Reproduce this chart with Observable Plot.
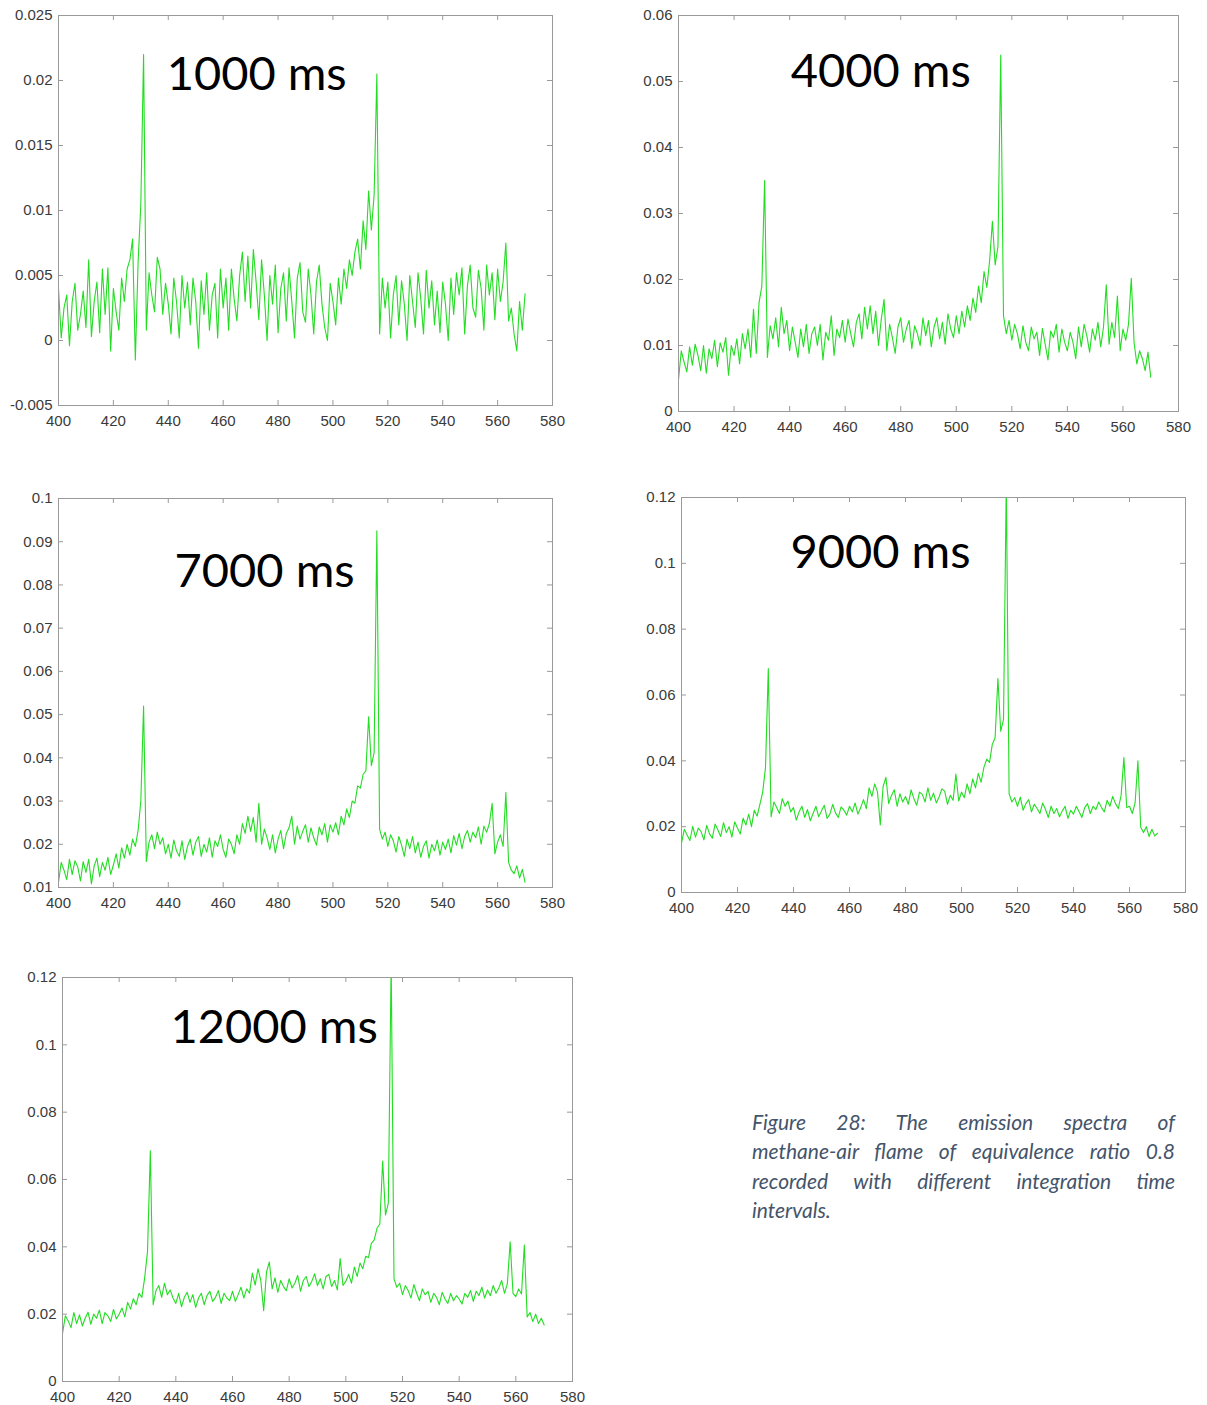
<!DOCTYPE html>
<html>
<head>
<meta charset="utf-8">
<script src="https://cdn.jsdelivr.net/npm/d3@7"></script>
<script src="https://cdn.jsdelivr.net/npm/@observablehq/plot@0.6"></script>
<style>
  html, body { margin: 0; padding: 0; background: #fff; }
  #page { position: relative; width: 1207px; height: 1405px; overflow: hidden; background: #fff; }
  .panel { position: absolute; }
  .panel svg { display: block; overflow: visible; }
  #caption { position: absolute; left: 752px; top: 1107px; width: 423px;
    font-family: Lato, "Open Sans", sans-serif; font-style: italic; font-size: 21px;
    line-height: 29.3px; color: #44546a; }
  #caption .j { text-align: justify; text-align-last: justify; }
</style>
</head>
<body>
<div id="page">
  <div id="caption">
    <div class="j">Figure 28: The emission spectra of</div>
    <div class="j">methane-air flame of equivalence ratio 0.8</div>
    <div class="j">recorded with different integration time</div>
    <div>intervals.</div>
  </div>
</div>
<script>
// ---- data -------------------------------------------------------------
// wavelength sampling grid (nm), 1 nm steps from 400 to 570
const wavelength = d3.range(400, 571);
// intensities, in units of 1e-4 (a.u.)
const UNIT = 1e-4;
const intensity1000 = [
  40, 2, 25, 35, -4, 30, 44, 8, 20, 38,
  10, 62, 3, 30, 45, 6, 55, 20, 56, -8,
  40, 22, 8, 48, 30, 55, 62, 78, -15, 60,
  105, 220, 8, 52, 35, 22, 64, 55, 20, 44,
  28, 5, 48, 30, 2, 50, 25, 45, 12, 48,
  30, -6, 46, 20, 52, 8, 35, 44, 2, 55,
  25, 48, 8, 55, 32, 15, 50, 68, 30, 65,
  25, 70, 45, 16, 62, 35, 0, 50, 28, 58,
  6, 40, 52, 15, 56, 30, 2, 48, 60, 22,
  14, 55, 35, 5, 45, 58, 28, 10, 0, 44,
  30, 12, 48, 28, 55, 40, 62, 50, 68, 78,
  55, 92, 70, 115, 85, 112, 205, 5, 48, 25,
  45, 2, 35, 50, 12, 46, 28, 0, 50, 30,
  10, 52, 32, 5, 54, 25, 46, 12, 38, 6,
  45, 28, 0, 48, 20, 52, 35, 56, 5, 42,
  58, 25, 18, 54, 40, 8, 58, 35, 52, 16,
  55, 30, 45, 75, 15, 25, 5, -8, 30, 8,
  36
];
const intensity4000 = [
  48, 92, 75, 60, 98, 70, 102, 85, 62, 100,
  58, 95, 80, 108, 68, 104, 90, 112, 55, 100,
  85, 110, 72, 118, 95, 125, 82, 155, 88, 165,
  190, 350, 82, 130, 110, 142, 98, 158, 118, 138,
  92, 128, 105, 82, 125, 98, 132, 88, 118, 128,
  100, 132, 78, 120, 108, 145, 85, 125, 112, 138,
  105, 140, 118, 98, 135, 148, 110, 158, 125, 160,
  118, 152, 100, 140, 170, 92, 132, 112, 88, 128,
  142, 105, 125, 138, 95, 130, 118, 100, 142, 115,
  138, 98, 128, 142, 110, 135, 102, 148, 125, 112,
  145, 118, 152, 128, 160, 138, 172, 150, 190, 165,
  212, 188, 228, 288, 222, 250, 540, 145, 118, 138,
  108, 132, 118, 95, 130, 105, 92, 128, 110, 120,
  85, 126, 102, 78, 122, 112, 132, 90, 125, 105,
  92, 120, 105, 80, 128, 98, 132, 115, 90, 125,
  108, 135, 98, 128, 192, 102, 135, 112, 175, 92,
  125, 108, 132, 202, 105, 72, 92, 80, 62, 90,
  52
];
const intensity7000 = [
  112, 158, 140, 118, 165, 130, 162, 148, 115, 160,
  135, 165, 108, 150, 168, 125, 158, 140, 170, 130,
  152, 178, 145, 192, 168, 200, 175, 212, 195, 232,
  300, 520, 160, 205, 222, 190, 228, 200, 215, 178,
  200, 168, 210, 185, 172, 208, 165, 195, 212, 175,
  205, 218, 172, 200, 182, 215, 170, 208, 195, 222,
  188, 170, 212, 200, 178, 222, 200, 248, 225, 265,
  230, 262, 205, 295, 200, 235, 215, 188, 222, 180,
  212, 232, 190, 225, 238, 265, 200, 242, 212, 230,
  245, 205, 238, 215, 198, 240, 222, 248, 205, 245,
  228, 250, 222, 265, 245, 282, 262, 300, 295, 335,
  330, 362, 370, 495, 382, 412, 925, 235, 212, 228,
  195, 222, 208, 182, 218, 198, 172, 212, 190, 218,
  180, 205, 170, 195, 208, 168, 200, 185, 210, 175,
  205, 188, 212, 180, 220, 198, 225, 190, 218, 232,
  205, 228, 215, 240, 200, 242, 228, 248, 295, 178,
  205, 222, 195, 320, 158, 140, 132, 150, 122, 142,
  112
];
const intensity9000 = [
  150, 192, 175, 158, 201, 168, 196, 185, 160, 204,
  178, 165, 208, 190, 170, 212, 182, 200, 168, 215,
  195, 178, 226, 205, 238, 200, 250, 232, 268, 305,
  380, 680, 230, 275, 258, 240, 285, 262, 278, 245,
  258, 220, 245, 262, 228, 252, 218, 240, 262, 230,
  248, 265, 225, 238, 268, 242, 228, 260, 250, 235,
  262, 245, 272, 238, 258, 282, 255, 318, 292, 330,
  305, 205, 322, 350, 270, 295, 312, 262, 300, 275,
  292, 268, 312, 285, 265, 305, 298, 275, 318, 280,
  302, 272, 290, 315, 308, 268, 295, 280, 360, 278,
  305, 288, 330, 300, 345, 318, 362, 335, 380, 405,
  395, 450, 470, 650, 490, 525, 1250, 300, 275, 288,
  262, 290, 250, 270, 282, 245, 268, 255, 240, 272,
  252, 228, 262, 240, 255, 230, 248, 262, 225, 250,
  238, 262, 245, 228, 258, 270, 240, 262, 252, 275,
  258, 245, 280, 262, 292, 270, 255, 295, 410, 258,
  262, 240, 272, 400, 198, 182, 200, 170, 192, 172,
  180
];
const intensity12000 = [
  142, 195, 180, 160, 205, 172, 198, 165, 188, 206,
  170, 200, 188, 212, 172, 205, 195, 178, 214, 186,
  200, 218, 192, 235, 215, 246, 228, 262, 250, 308,
  385, 685, 228, 270, 285, 250, 292, 258, 272, 248,
  232, 262, 222, 250, 265, 235, 258, 220, 248, 262,
  228, 255, 268, 238, 250, 270, 232, 262, 248, 240,
  268, 238, 258, 280, 248, 275, 262, 322, 286, 335,
  300, 210, 325, 355, 275, 308, 265, 300, 282, 270,
  305, 278, 292, 315, 268, 300, 312, 282, 298, 320,
  285, 305, 275, 312, 318, 282, 300, 272, 365, 285,
  298, 318, 292, 340, 312, 352, 335, 372, 368, 410,
  420, 455, 468, 655, 495, 530, 1250, 305, 280, 292,
  258, 285, 270, 248, 288, 262, 240, 275, 258, 268,
  235, 262, 250, 228, 265, 245, 232, 262, 240, 255,
  245, 230, 262, 250, 270, 238, 268, 255, 280, 248,
  272, 255, 285, 262, 278, 300, 262, 290, 415, 262,
  252, 275, 260, 405, 192, 205, 178, 200, 172, 188,
  168
];
const labels = ["1000 ms", "4000 ms", "7000 ms", "9000 ms", "12000 ms"];
const xTicks = [400, 420, 440, 460, 480, 500, 520, 540, 560, 580];
const yTicks1000 = [-0.005, 0, 0.005, 0.01, 0.015, 0.02, 0.025];
const yTicks4000 = [0, 0.01, 0.02, 0.03, 0.04, 0.05, 0.06];
const yTicks7000 = [0.01, 0.02, 0.03, 0.04, 0.05, 0.06, 0.07, 0.08, 0.09, 0.1];
const yTicks9000 = [0, 0.02, 0.04, 0.06, 0.08, 0.1, 0.12];
const yTicks12000 = [0, 0.02, 0.04, 0.06, 0.08, 0.1, 0.12];

// ---- layout / style ---------------------------------------------------
const GREEN = "#22dd22";
const AXIS = "#9a9a9a";
const LABEL = "#3a3a3a";
const TICK = 5;
const M = {left: 60, top: 20, right: 20, bottom: 34};

const panels = [
  {values: intensity1000, yTicks: yTicks1000, label: labels[0], box: [58, 15, 494, 390], at: [439.4, 0.0193]},
  {values: intensity4000, yTicks: yTicks4000, label: labels[1], box: [678, 15, 500, 396], at: [440.4, 0.0491]},
  {values: intensity7000, yTicks: yTicks7000, label: labels[2], box: [58, 498, 494, 389], at: [442.3, 0.0796]},
  {values: intensity9000, yTicks: yTicks9000, label: labels[3], box: [681, 497, 504, 395], at: [438.9, 0.0987]},
  {values: intensity12000, yTicks: yTicks12000, label: labels[4], box: [62, 977, 510, 404], at: [438.1, 0.1004]}
];

const page = document.getElementById("page");
for (const p of panels) {
  const [left, top, W, H] = p.box;
  const data = wavelength.map((w, i) => ({w, v: p.values[i] * UNIT}));
  const fmt = d => String(d);
  const chart = Plot.plot({
    width: W + M.left + M.right,
    height: H + M.top + M.bottom,
    marginLeft: M.left, marginRight: M.right, marginTop: M.top, marginBottom: M.bottom,
    style: {background: "transparent", fontFamily: "'Liberation Sans', Arial, sans-serif", fontSize: "15px", color: LABEL, overflow: "visible"},
    x: {domain: [400, 580], label: null},
    y: {domain: [p.yTicks[0], p.yTicks[p.yTicks.length - 1]], label: null},
    marks: [
      Plot.line(data, {x: "w", y: "v", stroke: GREEN, strokeWidth: 1.1, clip: true}),
      Plot.frame({stroke: AXIS, strokeWidth: 1}),
      Plot.tickX(xTicks, {x: d => d, stroke: AXIS, insetTop: H - TICK}),
      Plot.tickX(xTicks, {x: d => d, stroke: AXIS, insetBottom: H - TICK}),
      Plot.tickY(p.yTicks, {y: d => d, stroke: AXIS, insetRight: W - TICK}),
      Plot.tickY(p.yTicks, {y: d => d, stroke: AXIS, insetLeft: W - TICK}),
      Plot.axisX(xTicks, {tickSize: 0, tickPadding: 10, tickFormat: fmt, fill: LABEL}),
      Plot.axisY(p.yTicks, {tickSize: 0, tickPadding: 6, tickFormat: fmt, fill: LABEL}),
      Plot.text([p.label], {x: [p.at[0]], y: [p.at[1]], text: d => d, textAnchor: "start", lineAnchor: "bottom",
        fontSize: 47, fontFamily: "Lato, 'Open Sans', sans-serif", fill: "#000"})
    ]
  });
  const holder = document.createElement("div");
  holder.className = "panel";
  holder.style.left = (left - M.left) + "px";
  holder.style.top = (top - M.top) + "px";
  holder.appendChild(chart);
  page.appendChild(holder);
}
</script>
</body>
</html>
